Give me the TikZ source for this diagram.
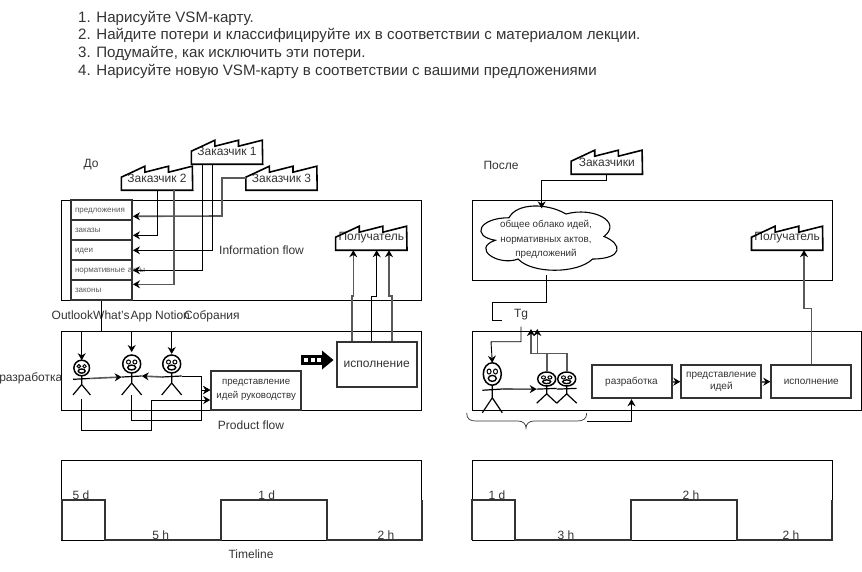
\documentclass[tikz,border=0pt]{standalone}
\usepackage{fontspec}
\setmainfont{Liberation Sans}
\usepackage{tikz}
\usetikzlibrary{arrows.meta, positioning}

\definecolor{inkgray}{gray}{0.2}
\definecolor{linegray}{gray}{0.35}

\newcommand{\setpx}[1]{\fontsize{#1}{#1}\selectfont}

\tikzset{
    panel/.style={draw, line width=0.9pt, minimum width=360pt, inner sep=0pt},
    label/.style={inner sep=0pt, text=inkgray, font=\setpx{12}},
    small/.style={inner sep=0pt, text=inkgray, font=\setpx{10}, align=center},
    tasklabel/.style={inner sep=0pt, anchor=base west, text=inkgray, font=\setpx{15.1}},
    factorybox/.style={inner sep=0pt, minimum width=71pt, minimum height=24pt, text=inkgray, font=\setpx{12}},
    stackrow/.style={draw=inkgray, line width=1.9pt, minimum height=20pt, text width=53pt, text height=5.5pt, text depth=1.5pt, inner xsep=4pt, inner ysep=0pt, align=left, text=linegray, font=\setpx{8}},
    workbox/.style={draw=inkgray, line width=2pt, inner sep=0pt, text=inkgray, align=center},
    flow/.style={->, line width=0.9pt},
    grayflow/.style={-{Stealth[length=7pt,width=8pt,color=black]}, line width=1.6pt, draw=linegray},
    wave/.style={line width=1.8pt, draw=inkgray, line join=miter},
    stickman/.pic={
        \draw[line width=1.5pt] (0,0) circle (9);
        \draw[line width=1pt] (-3.2,-2) circle (2) (3.2,-2) circle (2);
        \draw[line width=1.4pt, fill=white] (0,3.5) ellipse (4 and 2.4);
        \draw[line width=1.2pt] (0,9) -- (0,19) (-10,13) -- (10,12) (-10,31) -- (0,19) -- (10,31);
        \coordinate (-top) at (0,-9);
        \coordinate (-lhand) at (-10,13);
        \coordinate (-rhand) at (10,12);
        \coordinate (-base) at (0,31);
    },
}

\newcommand{\factory}[4]{%
    \node[factorybox] (#1) at (#2,#3) {#4};
    \draw[line width=1.6pt, line join=miter] (#1.south west) -- ++(0,-13) -- ++(23.6,-11) -- ++(0,6) -- ++(23.6,-6) -- ++(0,6) -- ++(23.8,-6) -- (#1.south east) -- cycle;
}

\begin{document}
\begin{tikzpicture}[x=1pt, y=-1pt, >={Stealth[length=7pt,width=8pt]}]
    \useasboundingbox (0,0) rectangle (862,571);

    % Task list
    \node[tasklabel] (taskone) at (78,22) {1. Нарисуйте VSM-карту.};
    \node[tasklabel] (tasktwo) at (78,39) {2. Найдите потери и классифицируйте их в соответствии с материалом лекции.};
    \node[tasklabel] (taskthree) at (78,57) {3. Подумайте, как исключить эти потери.};
    \node[tasklabel] (taskfour) at (78,75) {4. Нарисуйте новую VSM-карту в соответствии с вашими предложениями};

    % Panels before
    \node[panel, minimum height=100pt] (infoold) at (241.7,250.3) {};
    \node[panel, minimum height=79pt] (devold) at (241.7,370.5) {};
    \node[panel, minimum height=80pt] (timeold) at (241.7,500) {};

    % Panels after
    \node[panel, minimum height=80pt] (infonew) at (652,240.5) {};
    \node[panel, minimum width=389pt, minimum height=79pt] (devnew) at (666.5,370.5) {};
    \node[panel, minimum height=80pt] (timenew) at (652,500) {};

    % Titles
    \node[label] (before) at (91,165) {До};
    \node[label] (after) at (501,165) {После};
    \node[label, anchor=west] (infoflow) at (219,250) {Information flow};
    \node[label] (prodflow) at (251,425) {Product flow};
    \node[label] (timeline) at (251,554) {Timeline};
    \node[label, anchor=east] (devlabel) at (62.5,378) {разработка};

    % Customers
    \factory{custone}{227}{152}{\raisebox{2pt}{Заказчик 1}}
    \factory{custtwo}{157}{178}{Заказчик 2}
    \factory{custthree}{281.5}{178}{Заказчик 3}
    \factory{receiverold}{371.3}{238}{Получатель}
    \factory{customers}{606.8}{162}{Заказчики}
    \factory{receivernew}{787.2}{238}{Получатель}

    % Stack of inputs
    \node[stackrow] (rowoffer) at (101.5,210.3) {предложения};
    \node[stackrow] (roworder) at (101.5,230.3) {заказы};
    \node[stackrow] (rowidea) at (101.5,250.3) {идеи};
    \node[stackrow] (rowact) at (101.5,270.3) {\rlap{нормативные акты}};
    \node[stackrow] (rowlaw) at (101.5,290.3) {законы};

    % Customer flows
    \draw[grayflow] (custthree.west) -| (222,216) -- ([yshift=-6pt]rowoffer.east);
    \draw[flow] (custtwo.south) |- ([yshift=-5pt]roworder.east);
    \draw[flow] ([xshift=-15pt]custone.south) |- (rowidea.east);
    \draw[flow] ([xshift=-25pt]custone.south) |- (rowact.east);
    \draw[grayflow] ([xshift=17pt]custtwo.south) |- ([yshift=6pt]rowlaw.east);

    % Channels
    \node[label, anchor=base west] (outlook) at (51.5,319.5) {Outlook};
    \node[label, anchor=base west] (whatsapp) at (93,319.5) {What's\kern1ptApp};
    \node[label, anchor=base west] (notion) at (155,319.5) {Notion};
    \node[label, anchor=base west] (meetings) at (184,319.5) {Собрания};
    \draw[line width=0.9pt] (rowlaw.south) -- (rowlaw.south |- devold.north);

    % Team before
    \pic[scale=0.87] (persa) at (81.7,368) {stickman};
    \pic (persb) at (131.7,364) {stickman};
    \pic (persc) at (171.7,364) {stickman};
    \draw[flow] (devold.north -| persa-top) -- (persa-top);
    \draw[flow] (devold.north -| persb-top) -- ([yshift=3pt]persb-top);
    \draw[flow] (devold.north -| persc-top) -- ([yshift=1pt]persc-top);
    \draw[grayflow] (persa-rhand) -- (persb-lhand);
    \draw[grayflow] (persc-lhand) -- (persb-rhand);

    % Work boxes before
    \node[workbox, minimum width=90pt, minimum height=39pt, font=\setpx{9.7}] (showold) at (256.2,390) {представление\\[5pt]идей руководству};
    \node[workbox, minimum width=80pt, minimum height=45pt, font=\setpx{12}] (execold) at (376.7,364.3) {исполнение};
    \draw[flow] (persc-rhand) -| (201.7,390) -- ([yshift=0pt]showold.west);
    \draw[flow] (persb-base) -- (131.7,420) -| (201.7,390) -- (showold.west);
    \draw[flow] ([yshift=-4pt]persa-base) -- (81.7,430) -| (151.7,400) -- ([yshift=-10pt]showold.west);

    % Push arrow
    \fill (301,355) rectangle (323,365);
    \fill (322,350.5) -- (333.5,360) -- (322,369.5) -- cycle;
    \foreach \bx in {304,310.5,317} {
        \fill[white] (\bx,358) rectangle (\bx+4,362);
    }

    % Delivery before
    \draw[grayflow] ([xshift=-25pt]execold.north) -- (351.7,296) -- (353.3,296) -- ([xshift=-18pt]receiverold.south);
    \draw[flow] (execold.north -| 371.7,0) -- (371.7,296) -- (376.7,296) -- ([xshift=5.4pt]receiverold.south);
    \draw[grayflow] (execold.north -| 391.7,0) -- (391.7,296) -- (389,296) -- ([xshift=17.7pt]receiverold.south);

    % Cloud
    \begin{scope}[shift={(471,199)}, x=152pt, y=-75pt]
        \draw[line width=1.1pt, fill=white] (0.25,0.25) .. controls (0.05,0.25) and (0,0.5) .. (0.16,0.55)
            .. controls (0,0.66) and (0.18,0.9) .. (0.31,0.8)
            .. controls (0.4,1) and (0.7,1) .. (0.8,0.8)
            .. controls (1,0.8) and (1,0.6) .. (0.875,0.5)
            .. controls (1,0.3) and (0.8,0.1) .. (0.625,0.2)
            .. controls (0.5,0.05) and (0.3,0.05) .. (0.25,0.25);
        \coordinate (cloudtop) at (0.465,0.125);
    \end{scope}
    \node[small, font=\setpx{9.8}, align=center] (cloudtext) at (546,239.5) {общее облако идей,\\[4.8pt]нормативных актов,\\[4.8pt]предложений};
    \coordinate (cloudout) at (546.7,275);
    \draw[flow] (customers.south) -- (606.8,180.7) -| (cloudtop);

    % Team after
    \node[label] (tgapp) at (521,315) {Tg};
    \coordinate (tgin) at (501.7,320);
    \draw[line width=0.9pt] (cloudout) |- (492.3,302.3) |- (tgin);
    \pic[yscale=1.25] (persd) at (492.3,374) {stickman};
    \pic[yscale=0.78] (perse) at (546.7,379) {stickman};
    \pic[yscale=0.78] (persf) at (566.7,379) {stickman};
    \draw[flow] ([yshift=-6pt]tgapp.south) |- (491,341.7) -- (persd-top);
    \draw[grayflow] (persd-rhand) -- (perse-lhand);
    \coordinate (upone) at (531,329);
    \coordinate (uptwo) at (537.3,329);
    \draw[grayflow] (perse-top) -- (546.7,353.3) -| (uptwo);
    \draw[grayflow] (persf-top) -- (566.7,353.3) -| (upone);

    % Brace
    \coordinate (braceout) at (586.7,421);
    \draw[line width=0.7pt, draw=inkgray] (466.7,413) .. controls (466.7,419) and (470,421) .. (476,421) -- (518,421)
        .. controls (523,421) and (526,424) .. (526,428) .. controls (526,424) and (529,421) .. (534,421)
        -- (577,421) .. controls (583,421) and (586.7,419) .. (586.7,413);

    % Work boxes after
    \node[workbox, minimum width=80pt, minimum height=33pt, font=\setpx{10}] (devbox) at (631.5,381.7) {разработка};
    \node[workbox, minimum width=80pt, minimum height=33pt, font=\setpx{10}] (shownew) at (721.3,381.7) {представление\\[2pt]идей};
    \node[workbox, minimum width=80pt, minimum height=33pt, font=\setpx{10}] (execnew) at (811.3,381.7) {исполнение};
    \draw[flow] (braceout) -| (devbox.south);
    \draw[grayflow] (devbox) -- (shownew);
    \draw[grayflow] (shownew) -- (execnew);
    \draw[grayflow] (execnew.north) -- (811.3,308.3) -- (804,308.3) -- ([xshift=16.8pt]receivernew.south);

    % Timeline before
    \draw[wave] (61.7,540) -- (61.7,500) -- (105,500) -- (105,540) -- (220.7,540) -- (220.7,500) -- (326.7,500) -- (326.7,540) -- (421.7,540) -- (421.7,500);
    \node[label] (oldone) at (81,495) {5 d};
    \node[label] (oldtwo) at (160.7,535) {5 h};
    \node[label] (oldthree) at (266.7,495) {1 d};
    \node[label] (oldfour) at (386,535) {2 h};

    % Timeline after
    \draw[wave] (471.7,540) -- (471.7,500) -- (515,500) -- (515,540) -- (630.7,540) -- (630.7,500) -- (736.7,500) -- (736.7,540) -- (831.7,540) -- (831.7,500);
    \node[label] (newone) at (497,495) {1 d};
    \node[label] (newtwo) at (566,535) {3 h};
    \node[label] (newthree) at (691,495) {2 h};
    \node[label] (newfour) at (791,535) {2 h};
\end{tikzpicture}
\end{document}
